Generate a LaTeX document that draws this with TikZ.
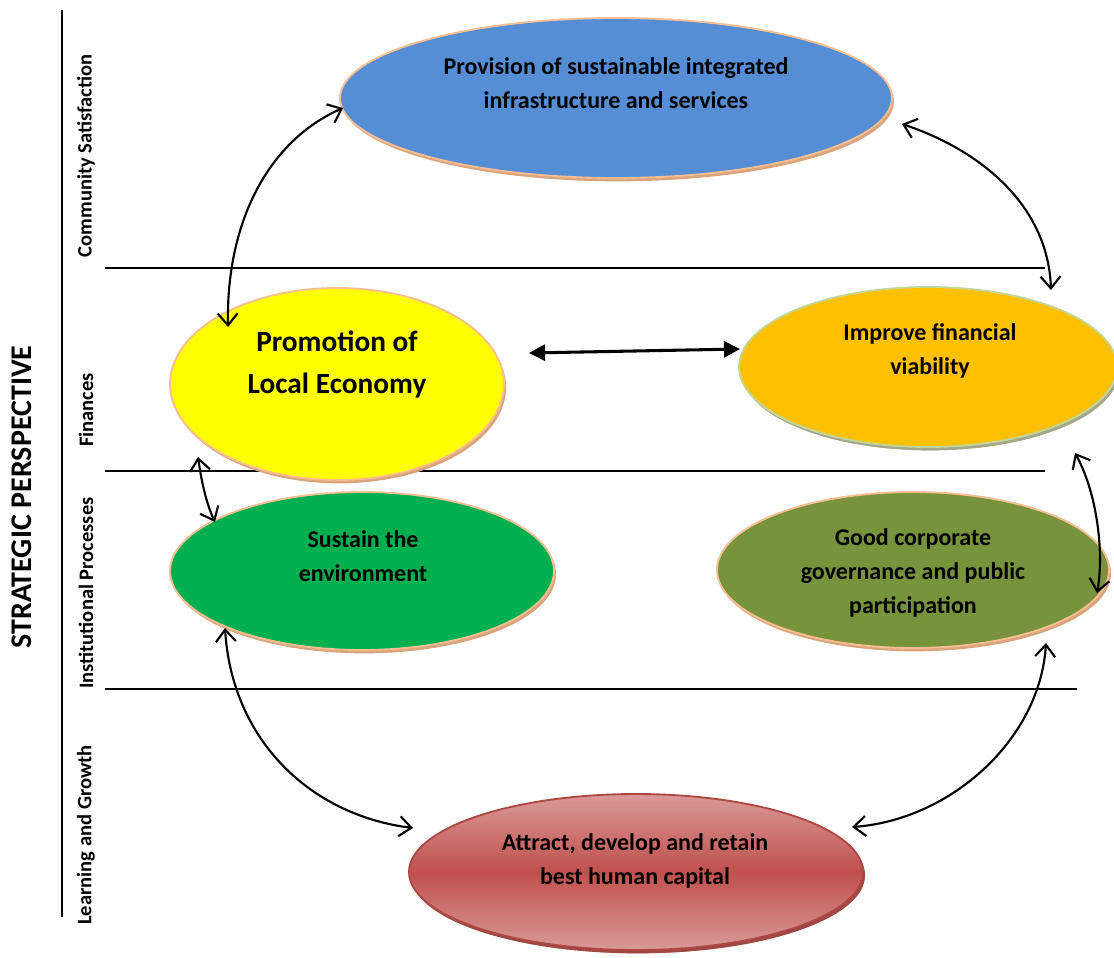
\documentclass[tikz,border=0pt]{standalone}
\usepackage{fontspec}
\setmainfont{Carlito}
\usetikzlibrary{arrows.meta,shapes.geometric,shadows,calc}
\definecolor{cblue}{HTML}{558ED5}
\definecolor{cyellow}{HTML}{FFFF00}
\definecolor{corange}{HTML}{FFC000}
\definecolor{cgreen}{HTML}{00B050}
\definecolor{colive}{HTML}{77933C}
\definecolor{cred}{HTML}{C0504D}
\definecolor{credlight}{HTML}{DA9A98}
\definecolor{cpeach}{HTML}{F8BE92}
\definecolor{ctan}{HTML}{D9A47C}
\definecolor{cpalegreen}{HTML}{C4D79B}
\definecolor{cgrayolive}{HTML}{A3A88A}
\definecolor{credshadow}{HTML}{9E4744}
\begin{document}
\begin{tikzpicture}[x=0.75pt,y=-0.75pt,
  goal/.style={ellipse, draw=cpeach, line width=1.4pt, inner sep=0pt,
    drop shadow={shadow xshift=1.5pt, shadow yshift=-2.5pt, fill=ctan, opacity=1}},
  goaltext/.style={align=center, font=\fontsize{18}{25.5}\selectfont\bfseries},
  lanelabel/.style={rotate=90, font=\fontsize{15.4}{19}\selectfont\bfseries},
  divider/.style={line width=1.5pt},
  link/.style={line width=1.6pt, {Straight Barb[length=9pt,width=15pt]}-{Straight Barb[length=9pt,width=15pt]}},
  flatlink/.style={line width=2.3pt, {Triangle[length=12pt,width=12pt]}-{Triangle[length=12pt,width=12pt]}}
]
\useasboundingbox (0,0) rectangle (1114,957);

% axis and lane labels
\draw[line width=2.2pt] (62,10) coordinate (axtop) -- (62,917) coordinate (axbot);
\node[rotate=90, font=\fontsize{22.5}{26}\selectfont\bfseries] (persp) at (22,497) {STRATEGIC PERSPECTIVE};
\node[lanelabel] (lcomm) at (86,156) {Community Satisfaction};
\node[lanelabel] (lfin) at (86,410) {Finances};
\node[lanelabel] (linst) at (86,593) {Institutional Processes};
\node[lanelabel] (llearn) at (86,835) {Learning and Growth};

% dividers
\draw[divider] (105,268) coordinate (d1a) -- (1045,268) coordinate (d1b);
\draw[divider] (105,471) coordinate (d2a) -- (1045,471) coordinate (d2b);
\draw[divider] (105,689) coordinate (d3a) -- (1077,689) coordinate (d3b);

% goals
\node[goal, fill=cblue, minimum width=414pt, minimum height=120pt] (blue) at (616,98) {};
\node[goal, fill=cyellow, minimum width=250.5pt, minimum height=144pt] (yellow) at (337,384) {};
\node[goal, fill=corange, draw=cpalegreen,
  drop shadow={shadow xshift=1.5pt, shadow yshift=-2.5pt, fill=cgrayolive, opacity=1},
  minimum width=283.5pt, minimum height=120pt] (orange) at (928,367) {};
\node[goal, fill=cgreen, minimum width=288pt, minimum height=118.5pt] (green) at (362,571) {};
\node[goal, fill=colive, minimum width=294pt, minimum height=117pt] (olive) at (913,570) {};
\node[goal, draw=cred!90!black, top color=credlight, bottom color=credlight, middle color=cred,
  drop shadow={shadow xshift=1.5pt, shadow yshift=-2.5pt, fill=credshadow, opacity=1},
  minimum width=340.5pt, minimum height=117pt] (red) at (636,872) {};

% goal texts
\node[goaltext] (bluet) at (616,83) {Provision of sustainable integrated\\infrastructure and services};
\node[align=center, font=\fontsize{22}{31.5}\selectfont\bfseries] (yellowt) at (337,364) {Promotion of\\Local Economy};
\node[goaltext] (oranget) at (930,351) {Improve financial\\viability};
\node[goaltext] (greent) at (363,556) {Sustain the\\environment};
\node[goaltext] (olivet) at (913,573) {Good corporate\\governance and public\\participation};
\node[goaltext] (redt) at (635,861) {Attract, develop and retain\\best human capital};

% connectors
\draw[link] ($(blue.center)+(-273,10)$) .. controls +(-73,32) and +(-2,-107) .. ($(yellow.center)+(-109,-57)$);
\draw[link] ($(blue.center)+(286,26)$) .. controls +(78,26) and +(-3,-85) .. ($(orange.center)+(123,-77)$);
\draw[flatlink] ($(yellow.center)+(192,-31)$) -- ($(orange.center)+(-188,-18)$);
\draw[link] ($(yellow.center)+(-139,73)$) .. controls +(4,28) and +(-8,-17) .. ($(green.center)+(-147,-49)$);
\draw[link] ($(green.center)+(-137,57)$) .. controls +(7,112) and +(-103,-13) .. ($(red.center)+(-223,-44)$);
\draw[link] ($(orange.center)+(147,86)$) .. controls +(23,42) and +(7,-38) .. ($(olive.center)+(184,23)$);
\draw[link] ($(olive.center)+(133,73)$) .. controls +(-6,97) and +(98,-7) .. ($(red.center)+(216,-45)$);
\end{tikzpicture}
\end{document}
